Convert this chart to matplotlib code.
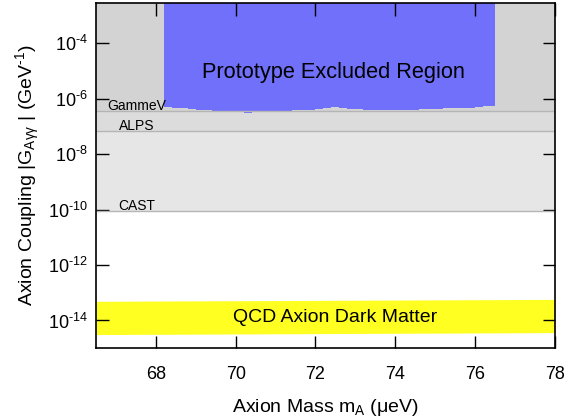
import math
import matplotlib
matplotlib.use('Agg')
import matplotlib.pyplot as plt
from matplotlib.ticker import FixedLocator, FuncFormatter

plt.rcParams['font.family'] = ['Liberation Sans', 'DejaVu Sans']
plt.rcParams['mathtext.fontset'] = 'custom'
plt.rcParams['mathtext.rm'] = 'Liberation Sans'
plt.rcParams['mathtext.it'] = 'Liberation Sans'
plt.rcParams['mathtext.default'] = 'regular'

# existing limits on the coupling (GeV^-1)
gammev_limit = 3.7e-7
alps_limit = 6.6e-8
cast_limit = 8.8e-11

# prototype scan: mass (ueV) and excluded coupling lower edge (GeV^-1)
scan_mass = [68.2, 68.4, 68.6, 68.8, 69.0, 69.2, 69.4, 69.6, 69.8, 70.0,
             70.2, 70.4, 70.6, 70.8, 71.0, 71.2, 71.4, 71.6, 71.8, 72.0,
             72.2, 72.4, 72.6, 72.8, 73.0, 73.2, 73.4, 73.6, 73.8, 74.0,
             74.2, 74.4, 74.6, 74.8, 75.0, 75.2, 75.4, 75.6, 75.8, 76.0,
             76.2, 76.4, 76.5]
scan_limit = [5.1e-7, 4.7e-7, 4.4e-7, 4.2e-7, 4.0e-7, 3.8e-7, 3.6e-7, 3.5e-7, 3.3e-7, 3.2e-7,
              3.1e-7, 3.2e-7, 3.4e-7, 3.5e-7, 3.6e-7, 3.7e-7, 3.8e-7, 3.9e-7, 4.0e-7, 4.3e-7,
              4.7e-7, 4.9e-7, 4.5e-7, 4.2e-7, 4.1e-7, 4.0e-7, 4.0e-7, 3.9e-7, 3.9e-7, 3.9e-7,
              3.85e-7, 3.9e-7, 4.1e-7, 4.2e-7, 4.35e-7, 4.4e-7, 4.5e-7, 4.5e-7, 4.7e-7, 5.0e-7,
              5.2e-7, 5.6e-7, 6.1e-7]

# QCD axion dark matter band
qcd_mass = [66.5, 78.0]
qcd_upper = [4.9e-14, 5.75e-14]
qcd_lower = [3.1e-15, 3.65e-15]

xmin, xmax = 66.5, 78.0
ymin, ymax = 1e-15, 2.8e-3
xticks = [68, 70, 72, 74, 76, 78]
yticks = [1e-14, 1e-12, 1e-10, 1e-8, 1e-6, 1e-4]

fig = plt.figure(figsize=(5.75, 4.18), dpi=100)
ax = fig.add_axes([0.167, 0.167, 0.798, 0.826])

# shaded regions excluded by earlier experiments
ax.fill_between([xmin, xmax], cast_limit, ymax, color='#e6e6e6', lw=0)
ax.fill_between([xmin, xmax], alps_limit, ymax, color='#dcdcdc', lw=0)
ax.fill_between([xmin, xmax], gammev_limit, ymax, color='#d3d3d3', lw=0)
for lim in [cast_limit, alps_limit, gammev_limit]:
    ax.axhline(lim, color='#b5b5b5', lw=1)

ax.fill_between(scan_mass, scan_limit, ymax, color='#7070fa', lw=0, step='post')
ax.fill_between(qcd_mass, qcd_lower, qcd_upper, color='#ffff22', lw=0)

ax.text(66.77, gammev_limit * 1.06, 'GammeV', fontsize=10, ha='left', va='baseline')
ax.text(67.07, alps_limit * 1.1, 'ALPS', fontsize=10, ha='left', va='baseline')
ax.text(67.05, cast_limit * 1.1, 'CAST', fontsize=10, ha='left', va='baseline')
ax.text(72.45, 9e-6, 'Prototype Excluded Region', fontsize=15.7, ha='center', va='center')
ax.text(72.48, 1.25e-14, 'QCD Axion Dark Matter', fontsize=14, ha='center', va='center')

ax.set_yscale('log')
ax.set_xlim(xmin, xmax)
ax.set_ylim(ymin, ymax)
ax.xaxis.set_major_locator(FixedLocator(xticks))
ax.yaxis.set_major_locator(FixedLocator(yticks))
ax.yaxis.set_minor_locator(FixedLocator([]))
ax.yaxis.set_major_formatter(
    FuncFormatter(lambda v, p: '$10^{\u2010%d}$' % abs(round(math.log10(v)))))
ax.tick_params(which='major', direction='in', length=9, width=1,
               top=True, right=True, labelsize=13)
ax.tick_params(axis='x', pad=13)
ax.tick_params(axis='y', pad=6)
for s in ax.spines.values():
    s.set_linewidth(1.2)

ax.set_xlabel('Axion Mass m$_{A}$ (\u03bceV)', fontsize=14, labelpad=10)
ax.set_ylabel('Axion Coupling |G$_{A\u03b3\u03b3}$ | (GeV$^{\u20101}$)', fontsize=14, labelpad=4)

fig.savefig('out.png', dpi=100)
